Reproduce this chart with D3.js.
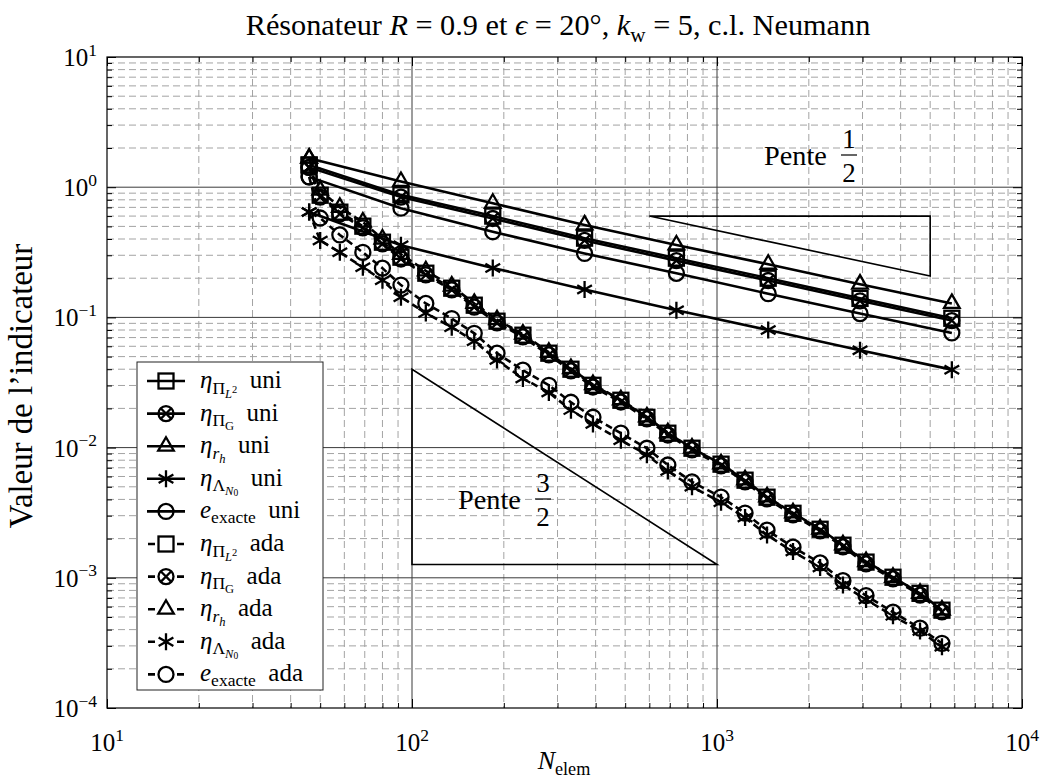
<!DOCTYPE html>
<html><head><meta charset="utf-8">
<script src="https://cdn.jsdelivr.net/npm/d3@7/dist/d3.min.js"></script>
<style>body{margin:0;background:#fff} text{white-space:pre}</style>
</head><body>
<svg id="chart" width="1043" height="778"></svg>
<script>
// ---------------- data ----------------
const N_uni = [46, 92, 184, 368, 736, 1472, 2944, 5888];
const etaPiL2_uni   = [1.48, 0.873, 0.600, 0.406, 0.285, 0.200, 0.140, 0.0985];
const etaPiG_uni    = [1.42, 0.840, 0.575, 0.390, 0.273, 0.192, 0.134, 0.0945];
const etaRh_uni     = [1.67, 1.106, 0.753, 0.513, 0.360, 0.256, 0.180, 0.128];
const etaLambda_uni = [0.646, 0.358, 0.240, 0.164, 0.1135, 0.0799, 0.0559, 0.0397];
const eExacte_uni   = [1.20, 0.690, 0.455, 0.310, 0.218, 0.152, 0.107, 0.076];

const N_ada = [46, 50, 58, 69, 80, 92, 111, 135, 160, 190, 231, 281, 332, 392, 484, 589, 690, 828,
               1031, 1236, 1459, 1775, 2178, 2588, 3081, 3776, 4631, 5465];
const etaPiL2_ada = [1.48, 0.868, 0.643, 0.502, 0.378, 0.290, 0.2185, 0.1676, 0.1241, 0.0935, 0.0730, 0.0531,
                     0.0400, 0.0301, 0.0231, 0.0171, 0.0129, 0.00989, 0.00746, 0.00562, 0.00416, 0.00313,
                     0.00236, 0.00178, 0.00132, 0.00101, 0.00076, 0.000564];
const etaPiG_ada  = [1.42, 0.840, 0.625, 0.487, 0.367, 0.281, 0.212, 0.163, 0.120, 0.0907, 0.0708, 0.0515,
                     0.0388, 0.0292, 0.0224, 0.0166, 0.0125, 0.0096, 0.00724, 0.00545, 0.00404, 0.00304,
                     0.00229, 0.00173, 0.00128, 0.00098, 0.000737, 0.000547];
const etaRh_ada   = [1.67, 0.950, 0.700, 0.540, 0.400, 0.305, 0.228, 0.174, 0.128, 0.096, 0.0745, 0.054,
                     0.0405, 0.0305, 0.0233, 0.0172, 0.0130, 0.0099, 0.0075, 0.00565, 0.00418, 0.00315,
                     0.00237, 0.00179, 0.00133, 0.00101, 0.00076, 0.000566];
const etaLambda_ada = [0.646, 0.390, 0.316, 0.243, 0.193, 0.143, 0.108, 0.084, 0.0656, 0.047, 0.034, 0.0265,
                       0.0194, 0.0152, 0.0114, 0.0088, 0.0066, 0.0050, 0.0038, 0.0029, 0.00213, 0.00159,
                       0.00120, 0.00088, 0.00068, 0.00051, 0.00039, 0.000295];
const eExacte_ada = [1.20, 0.580, 0.430, 0.316, 0.239, 0.177, 0.128, 0.098, 0.0755, 0.0531, 0.0393, 0.0301,
                     0.0223, 0.0171, 0.0129, 0.00989, 0.00735, 0.00545, 0.00417, 0.00314, 0.00232, 0.00172,
                     0.00130, 0.00095, 0.00073, 0.000545, 0.00041, 0.000314];

const slopeHalf = [[600, 0.6], [5000, 0.6], [5000, 0.6 * Math.sqrt(600 / 5000)]];
const slopeThreeHalf = [[100, 0.04], [100, 0.04 * Math.pow(0.1, 1.5)], [1000, 0.04 * Math.pow(0.1, 1.5)]];

const xDecades = [10, 100, 1000, 10000];
const yDecades = [1e-4, 1e-3, 1e-2, 1e-1, 1, 10];

// ---------------- setup ----------------
const FONT = "'Liberation Serif', 'Times New Roman', serif";
const FS = 25;
const svg = d3.select("#chart");
svg.append("rect").attr("width", 1043).attr("height", 778).attr("fill", "#fff");

const L = 107, R = 1022, T = 57, B = 708;
const x = d3.scaleLog().domain([10, 1e4]).range([L, R]);
const y = d3.scaleLog().domain([1e-4, 10]).range([B, T]);

function minors(decs) {
  const out = [];
  for (let i = 0; i < decs.length - 1; i++) for (let k = 2; k <= 9; k++) out.push(decs[i] * k);
  return out;
}
const xMinor = minors(xDecades), yMinor = minors(yDecades);

// grid
const grid = svg.append("g");
grid.selectAll(".gxm").data(xMinor).join("line")
  .attr("x1", d => x(d)).attr("x2", d => x(d)).attr("y1", T).attr("y2", B)
  .attr("stroke", "#a3a3a3").attr("stroke-width", 1).attr("stroke-dasharray", "7,4");
grid.selectAll(".gym").data(yMinor).join("line")
  .attr("y1", d => y(d)).attr("y2", d => y(d)).attr("x1", L).attr("x2", R)
  .attr("stroke", "#a3a3a3").attr("stroke-width", 1).attr("stroke-dasharray", "7,4");
grid.selectAll(".gxM").data(xDecades.slice(1, -1)).join("line")
  .attr("x1", d => x(d)).attr("x2", d => x(d)).attr("y1", T).attr("y2", B)
  .attr("stroke", "#3a3a3a").attr("stroke-width", 1);
grid.selectAll(".gyM").data(yDecades.slice(1, -1)).join("line")
  .attr("y1", d => y(d)).attr("y2", d => y(d)).attr("x1", L).attr("x2", R)
  .attr("stroke", "#3a3a3a").attr("stroke-width", 1);

// ticks (inward) on all four sides
function ticks(axisFn, scale, vals, size, transform) {
  const g = svg.append("g").attr("transform", transform)
    .call(axisFn(scale).tickValues(vals).tickSize(-size).tickFormat(""));
  g.select(".domain").remove();
  g.selectAll("line").attr("stroke", "#000").attr("stroke-width", 1);
}
ticks(d3.axisBottom, x, xMinor, 5, `translate(0,${B})`);
ticks(d3.axisBottom, x, xDecades, 9, `translate(0,${B})`);
ticks(d3.axisTop, x, xMinor, 5, `translate(0,${T})`);
ticks(d3.axisTop, x, xDecades, 9, `translate(0,${T})`);
ticks(d3.axisLeft, y, yMinor, 5, `translate(${L},0)`);
ticks(d3.axisLeft, y, yDecades, 9, `translate(${L},0)`);
ticks(d3.axisRight, y, yMinor, 5, `translate(${R},0)`);
ticks(d3.axisRight, y, yDecades, 9, `translate(${R},0)`);

// frame
svg.append("rect").attr("x", L).attr("y", T).attr("width", R - L).attr("height", B - T)
  .attr("fill", "none").attr("stroke", "#000").attr("stroke-width", 1.2);

// rich text helper
function rich(g, px, py, parts, size, anchor, extra) {
  const t = g.append("text").attr("x", px).attr("y", py)
    .attr("font-family", FONT).attr("font-size", size)
    .attr("text-anchor", anchor || "start").attr("fill", "#000");
  if (extra) extra(t);
  let cur = 0;
  parts.forEach(p => {
    const off = (p.off || 0) * size;
    const ts = t.append("tspan").attr("dy", (off - cur).toFixed(2)).text(p.t);
    if (p.s) ts.attr("font-size", p.s * size);
    if (p.i) ts.attr("font-style", "italic");
    cur = off;
  });
  return t;
}
function fitted(g, px, py, parts, target, anchor, extra) {
  const probe = rich(g, px, py, parts, 20, anchor, extra);
  const w = probe.node().getBBox().width;
  probe.remove();
  return rich(g, px, py, parts, 20 * target / w, anchor, extra);
}

// tick labels
const expo = d => Math.round(Math.log10(d));
const fmtExp = e => (e < 0 ? "\u2212" + (-e) : String(e));
xDecades.forEach(d => {
  rich(svg, x(d), 751, [{ t: "10" }, { t: fmtExp(expo(d)), off: -0.42, s: 0.7 }], FS, "middle");
});
yDecades.forEach(d => {
  rich(svg, 97, y(d) + 9, [{ t: "10" }, { t: fmtExp(expo(d)), off: -0.42, s: 0.7 }], FS, "end");
});

// axis titles
rich(svg, 564, 769, [{ t: "N", i: 1 }, { t: "elem", off: 0.22, s: 0.7 }], FS + 1, "middle");
fitted(svg, 0, 0, [{ t: "Valeur de l\u2019indicateur" }], 285, "middle",
  t => t.attr("transform", "translate(32,386) rotate(-90)"));

// title
fitted(svg, 558, 35, [
  { t: "Résonateur " }, { t: "R", i: 1 }, { t: " = 0.9 et " }, { t: "\u03f5", i: 1 },
  { t: " = 20°, " }, { t: "k", i: 1 }, { t: "w", off: 0.22, s: 0.7 }, { t: " = 5, c.l. Neumann", off: 0 }
], 625, "middle");

// slope triangles
const tri = d3.line().x(d => x(d[0])).y(d => y(d[1]));
[slopeHalf, slopeThreeHalf].forEach(s => {
  svg.append("path").attr("d", tri(s) + "Z").attr("fill", "none")
    .attr("stroke", "#000").attr("stroke-width", 1.6);
});
function pente(px, barY, num, den) {
  fitted(svg, px, barY + 10, [{ t: "Pente" }], 63, "start");
  const fx = px + 85;
  rich(svg, fx, barY - 7, [{ t: num }], FS + 2, "middle");
  rich(svg, fx, barY + 27, [{ t: den }], FS + 2, "middle");
  svg.append("line").attr("x1", fx - 8).attr("x2", fx + 8).attr("y1", barY).attr("y2", barY)
    .attr("stroke", "#000").attr("stroke-width", 1.2);
}
pente(764, 155, "1", "2");
pente(458, 499, "3", "2");

// markers
function marker(g, type, cx, cy) {
  const m = g.append("g").attr("transform", `translate(${cx},${cy})`)
    .attr("fill", "none").attr("stroke", "#000").attr("stroke-width", 2.3);
  const r = 7.5;
  if (type === "square") {
    m.append("rect").attr("x", -r).attr("y", -r).attr("width", 2 * r).attr("height", 2 * r);
  } else if (type === "otimes") {
    m.append("circle").attr("r", r);
    const a = r * Math.SQRT1_2;
    m.append("path").attr("d", `M${-a},${-a}L${a},${a}M${-a},${a}L${a},${-a}`);
  } else if (type === "triangle") {
    const tr = 9;
    m.append("path").attr("d", `M0,${-tr}L${tr * 0.866},${tr / 2}L${-tr * 0.866},${tr / 2}Z`);
  } else if (type === "star") {
    const s = 8.5;
    let d = "";
    [90, 210, 330].forEach(a => {
      const rad = a * Math.PI / 180;
      d += `M${s * Math.cos(rad)},${-s * Math.sin(rad)}L${-s * Math.cos(rad)},${s * Math.sin(rad)}`;
    });
    m.append("path").attr("d", d);
  } else if (type === "circle") {
    m.append("circle").attr("r", r);
  }
}

const series = [
  { N: N_uni, v: etaPiL2_uni, mark: "square", dash: false },
  { N: N_uni, v: etaPiG_uni, mark: "otimes", dash: false },
  { N: N_uni, v: etaRh_uni, mark: "triangle", dash: false },
  { N: N_uni, v: etaLambda_uni, mark: "star", dash: false },
  { N: N_uni, v: eExacte_uni, mark: "circle", dash: false },
  { N: N_ada, v: etaPiL2_ada, mark: "square", dash: true },
  { N: N_ada, v: etaPiG_ada, mark: "otimes", dash: true },
  { N: N_ada, v: etaRh_ada, mark: "triangle", dash: true },
  { N: N_ada, v: etaLambda_ada, mark: "star", dash: true },
  { N: N_ada, v: eExacte_ada, mark: "circle", dash: true }
];
const line = d3.line().x(d => x(d[0])).y(d => y(d[1]));
const plotG = svg.append("g");
series.forEach(s => {
  const pts = s.N.map((n, i) => [n, s.v[i]]);
  const g = plotG.append("g");
  g.append("path").attr("d", line(pts)).attr("fill", "none").attr("stroke", "#000")
    .attr("stroke-width", 2.6).attr("stroke-dasharray", s.dash ? "7,4" : null);
  pts.forEach(p => marker(g, s.mark, x(p[0]), y(p[1])));
});

// legend
const legendLabels = [
  [{ t: "η", i: 1 }, { t: "Π", off: 0.22, s: 0.7 }, { t: "L", i: 1, off: 0.38, s: 0.5 }, { t: "2", off: 0.2, s: 0.42 }],
  [{ t: "η", i: 1 }, { t: "Π", off: 0.22, s: 0.7 }, { t: "G", off: 0.36, s: 0.5 }],
  [{ t: "η", i: 1 }, { t: "r", i: 1, off: 0.22, s: 0.7 }, { t: "h", i: 1, off: 0.38, s: 0.5 }],
  [{ t: "η", i: 1 }, { t: "Λ", off: 0.22, s: 0.7 }, { t: "N", i: 1, off: 0.36, s: 0.5 }, { t: "0", off: 0.42, s: 0.38 }],
  [{ t: "e", i: 1 }, { t: "exacte", off: 0.2, s: 0.7 }]
];
const legendSuffix = ["uni", "ada"];
const lg = svg.append("g");
lg.append("rect").attr("x", 137).attr("y", 362).attr("width", 186).attr("height", 328)
  .attr("fill", "#fff").attr("stroke", "#222").attr("stroke-width", 1);
series.forEach((s, i) => {
  const ry = 381 + i * 32.6;
  const g = lg.append("g");
  if (s.dash) {
    g.append("path").attr("d", `M148,${ry}L155,${ry}M177,${ry}L184,${ry}`)
      .attr("stroke", "#000").attr("stroke-width", 2.6);
  } else {
    g.append("line").attr("x1", 147).attr("x2", 185).attr("y1", ry).attr("y2", ry)
      .attr("stroke", "#000").attr("stroke-width", 2.6);
  }
  marker(g, s.mark, 166, ry);
  const parts = legendLabels[i % 5].concat([{ t: "  " + legendSuffix[s.dash ? 1 : 0], off: 0 }]);
  rich(lg, 200, ry + 7, parts, FS, "start");
});
</script>
</body></html>
